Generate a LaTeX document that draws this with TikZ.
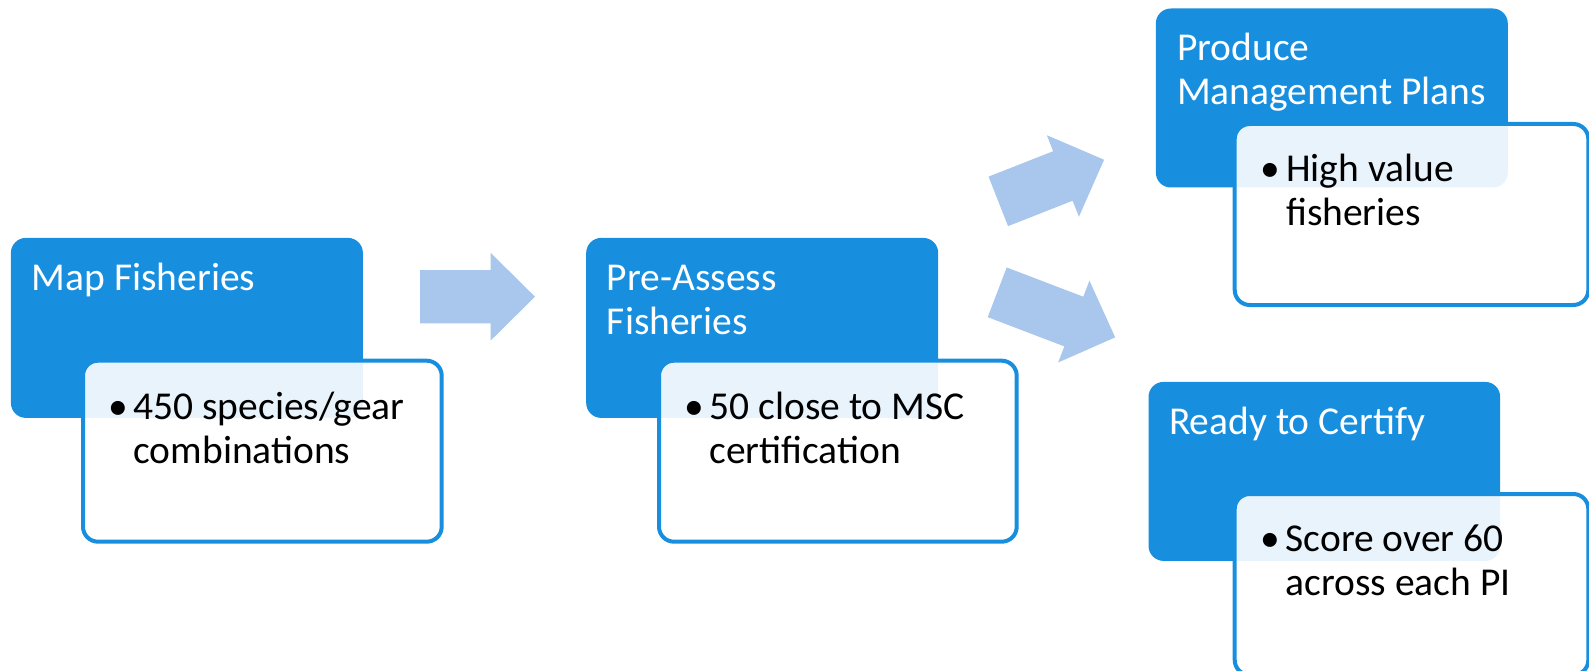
\documentclass[tikz,border=0pt]{standalone}
\usepackage{fontspec}
\setmainfont{Carlito}
\definecolor{boxblue}{RGB}{24,142,222}
\definecolor{arrowfill}{RGB}{169,198,236}
\newcommand\flowarrow[4]{% name, tail centre, angle, shaft length
  \coordinate (#1) at (#2);
  \fill[flow, shift={(#1)}, rotate=#3]
    (0,-26.6) -- (#4,-26.6) -- (#4,-43.8) -- ({#4+44.3},0)
    -- (#4,43.8) -- (#4,26.6) -- (0,26.6) -- cycle;}
\begin{document}
\begin{tikzpicture}[x=1pt,y=-1pt,
  headbox/.style={fill=boxblue, rounded corners=15pt, anchor=north west,
    inner sep=0pt, minimum width=352pt, minimum height=180pt},
  notebox/.style={draw=boxblue, line width=4pt, fill=white, fill opacity=0.9,
    rounded corners=15pt, anchor=north west, inner sep=0pt, minimum height=181pt},
  bigfont/.style={font=\fontsize{39.5}{44}\selectfont},
  headtext/.style={bigfont, text=white, anchor=base west, inner sep=0pt, align=left},
  notetext/.style={bigfont, text=black, anchor=base west, inner sep=0pt, align=left},
  dot/.style={bigfont, text=black, anchor=base, inner sep=0pt},
  flow/.style={fill=arrowfill}
]
\useasboundingbox (0,0) rectangle (1589,671);

% block arrows between the stages
\flowarrow{f1}{420,296.7}{0}{70.7}
\flowarrow{f2}{998.3,201.4}{21.5}{69.4}
\flowarrow{f3}{997.2,292.3}{-20.9}{82}

% stage headers
\node[headbox] (map) at (10.7,237.7) {};
\node[headbox] (pre) at (586,237.7) {};
\node[headbox, minimum height=179pt] (plan) at (1155.6,8.3) {};
\node[headbox, minimum height=179pt, minimum width=351.7pt] (cert) at (1148.3,381.7) {};

% detail cards
\node[notebox, minimum width=358.7pt] (mapnote) at (81,358.7) {};
\node[notebox, minimum width=357.7pt] (prenote) at (657,358.7) {};
\node[notebox, minimum width=353.6pt] (plannote) at (1232.7,122) {};
\node[notebox, minimum width=353.6pt] (certnote) at (1232.7,492) {};

% header texts (the base anchor sits on the last line)
\node[headtext] (maptitle) at (31.7,290.7) {Map Fisheries};
\node[headtext] (pretitle) at (606.7,334.3) {Pre-Assess\\Fisheries};
\node[headtext] (plantitle) at (1177,105) {Produce\\Management Plans};
\node[headtext] (certtitle) at (1169,434) {Ready to Certify};

% bullet points
\node[dot] (mapdot) at (118,419.3) {•};
\node[notetext] (maptext) at (133.3,463.3) {450 species/gear\\combinations};
\node[dot] (predot) at (694,419.3) {•};
\node[notetext] (pretext) at (709.3,463.3) {50 close to MSC\\certification};
\node[dot] (plandot) at (1270,181.7) {•};
\node[notetext] (plantext) at (1286,225.7) {High value\\fisheries};
\node[dot] (certdot) at (1270,551.7) {•};
\node[notetext] (certtext) at (1285.5,595.7) {Score over 60\\across each PI};
\end{tikzpicture}
\end{document}
